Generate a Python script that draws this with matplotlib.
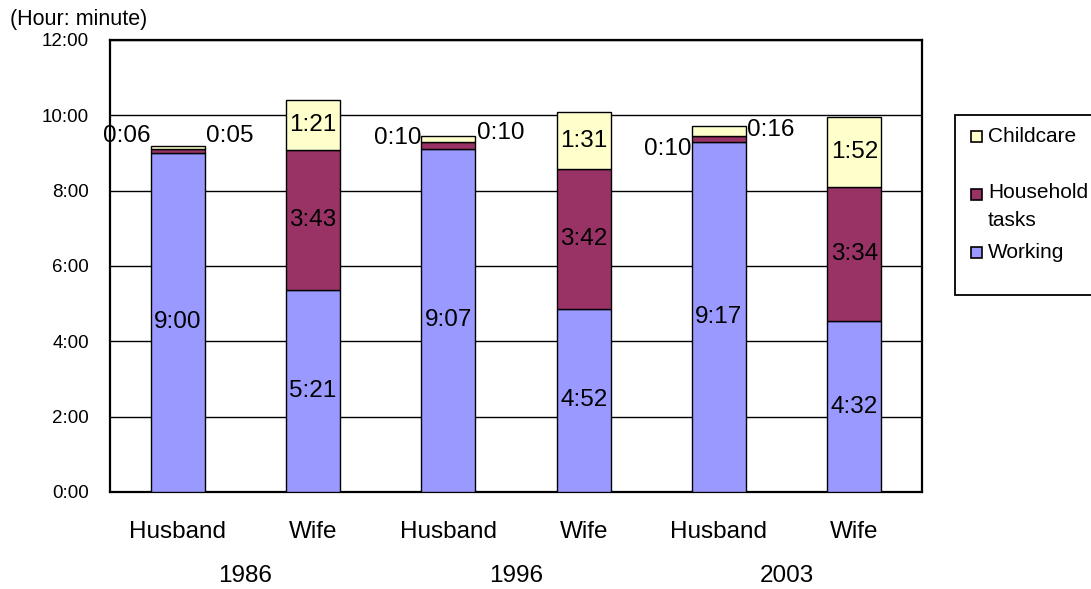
import matplotlib.pyplot as plt
from matplotlib.patches import Rectangle

plt.rcParams['font.family'] = ['Liberation Sans', 'DejaVu Sans']

# data (minutes per day)
categories = ['Husband', 'Wife', 'Husband', 'Wife', 'Husband', 'Wife']
years = ['1986', '1996', '2003']
working = [540, 321, 547, 292, 557, 272]
household = [6, 223, 10, 222, 10, 214]
childcare = [5, 81, 10, 91, 16, 112]
yticks = [0, 120, 240, 360, 480, 600, 720]
ytick_labels = ['0:00', '2:00', '4:00', '6:00', '8:00', '10:00', '12:00']

colors = {'Working': '#9999ff', 'Household tasks': '#993366', 'Childcare': '#ffffcc'}

def hm(m):
    return '%d:%02d' % (m // 60, m % 60)

fig = plt.figure(figsize=(10.91, 5.89), dpi=100)
ax = fig.add_axes([110/1091, 1-492/589, 812/1091, 452/589])

x = list(range(len(categories)))
w = 0.4
ax.bar(x, working, w, color=colors['Working'], edgecolor='black', linewidth=1, zorder=3)
ax.bar(x, household, w, bottom=working, color=colors['Household tasks'],
       edgecolor='black', linewidth=1, zorder=3)
bottom3 = [a + b for a, b in zip(working, household)]
ax.bar(x, childcare, w, bottom=bottom3, color=colors['Childcare'],
       edgecolor='black', linewidth=1, zorder=3)

ax.set_xlim(-0.5, 5.5)
ax.set_ylim(0, 720)
ax.set_yticks(yticks)
ax.set_yticklabels(ytick_labels, fontsize=13.5)
ax.set_xticks(x)
ax.set_xticklabels(categories, fontsize=17.5)
ax.tick_params(axis='y', length=0, pad=15)
ax.tick_params(axis='x', length=0, pad=21)
ax.grid(axis='y', color='black', linewidth=1, zorder=0)
for s in ax.spines.values():
    s.set_linewidth(1.6)

# labels inside bars
for i in x:
    ax.text(i, working[i] / 2, hm(working[i]), ha='center', va='center', fontsize=17.5, zorder=4)
    if categories[i] == 'Wife':
        ax.text(i, working[i] + household[i] / 2, hm(household[i]), ha='center', va='center',
                fontsize=17.5, zorder=4)
        ax.text(i, bottom3[i] + childcare[i] / 2, hm(childcare[i]), ha='center', va='center',
                fontsize=17.5, zorder=4)

# small husband labels (household left, childcare right)
left_y = [567, 564, 546]
right_y = [567, 572, 577]
for k, i in enumerate([0, 2, 4]):
    ax.text(i - w / 2, left_y[k], hm(household[i]), ha='right', va='center', fontsize=17.5, zorder=4)
    ax.text(i + w / 2 + 0.01, right_y[k], hm(childcare[i]), ha='left', va='center', fontsize=17.5, zorder=4)

# year labels
for k, yr in enumerate(years):
    ax.text(2 * k + 0.5, -0.185, yr, transform=ax.get_xaxis_transform(), ha='center', va='center',
            fontsize=17.5)

fig.text(10/1091, 1-20/589, '(Hour: minute)', ha='left', va='center', fontsize=15.5)

# legend drawn by hand
fig.patches.append(Rectangle((955/1091, 1-295/589), 160/1091, 180/589, transform=fig.transFigure,
                             facecolor='white', edgecolor='black', linewidth=1.3))
entries = [('Childcare', 136, [136]), ('Household tasks', 194, [192, 220]), ('Working', 252, [252])]
for name, sy, ty in entries:
    fig.patches.append(Rectangle((971/1091, 1-(sy+6)/589), 11/1091, 11/589, transform=fig.transFigure,
                                 facecolor=colors[name], edgecolor='black', linewidth=1.2))
    parts = ['Household', 'tasks'] if name == 'Household tasks' else [name]
    for p, yy in zip(parts, ty):
        fig.text(988/1091, 1-yy/589, p, ha='left', va='center', fontsize=15)

fig.savefig('out.png', dpi=100)
